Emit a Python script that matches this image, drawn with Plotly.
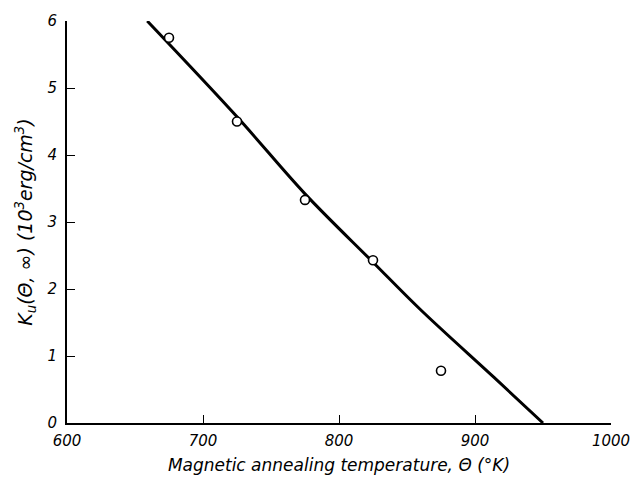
import plotly.graph_objects as go

# Measured uniaxial anisotropy after magnetic annealing
anneal_temp = [675, 725, 775, 825, 875]
k_u = [5.75, 4.5, 3.33, 2.43, 0.78]

# Drawn trend curve
curve_temp = [659, 725, 775, 825, 860, 914, 950]
curve_k = [6.0, 4.57, 3.42, 2.40, 1.69, 0.68, 0.0]

x_ticks = [600, 700, 800, 900, 1000]
y_ticks = [0, 1, 2, 3, 4, 5, 6]

font_family = "DejaVu Sans"

fig = go.Figure()
fig.add_trace(go.Scatter(
    x=curve_temp, y=curve_k, mode="lines",
    line=dict(color="black", width=3, shape="spline", smoothing=1.0),
    showlegend=False, hoverinfo="skip",
))
fig.add_trace(go.Scatter(
    x=anneal_temp, y=k_u, mode="markers",
    marker=dict(symbol="circle", size=9, color="white",
                line=dict(color="black", width=1.6)),
    showlegend=False,
))

axis_common = dict(
    showgrid=False, zeroline=False, showline=True, linecolor="black",
    linewidth=2, ticks="inside", ticklen=8, tickwidth=1.3, tickcolor="black",
    tickfont=dict(family=font_family, size=15, color="black", style="italic"),
    mirror=False,
)

fig.update_layout(
    width=642, height=486,
    margin=dict(l=67, r=23, t=13, b=63),
    paper_bgcolor="white", plot_bgcolor="white",
    xaxis=dict(
        range=[600, 1000], tickvals=x_ticks, ticktext=[str(v) for v in x_ticks],
        ticklabelstandoff=3,
        title=dict(text="Magnetic annealing temperature, Θ (°K)", standoff=10,
                   font=dict(family=font_family, size=17, color="black", style="italic")),
        **axis_common,
    ),
    yaxis=dict(
        range=[0, 6], tickvals=y_ticks, ticktext=[str(v) for v in y_ticks],
        ticklabelstandoff=5,
        title=dict(text="K<sub>u</sub>(Θ, ∞) (10<sup>3</sup>erg/cm<sup>3</sup>)", standoff=10,
                   font=dict(family=font_family, size=19, color="black", style="italic")),
        **axis_common,
    ),
)

fig.write_html("out.html")
